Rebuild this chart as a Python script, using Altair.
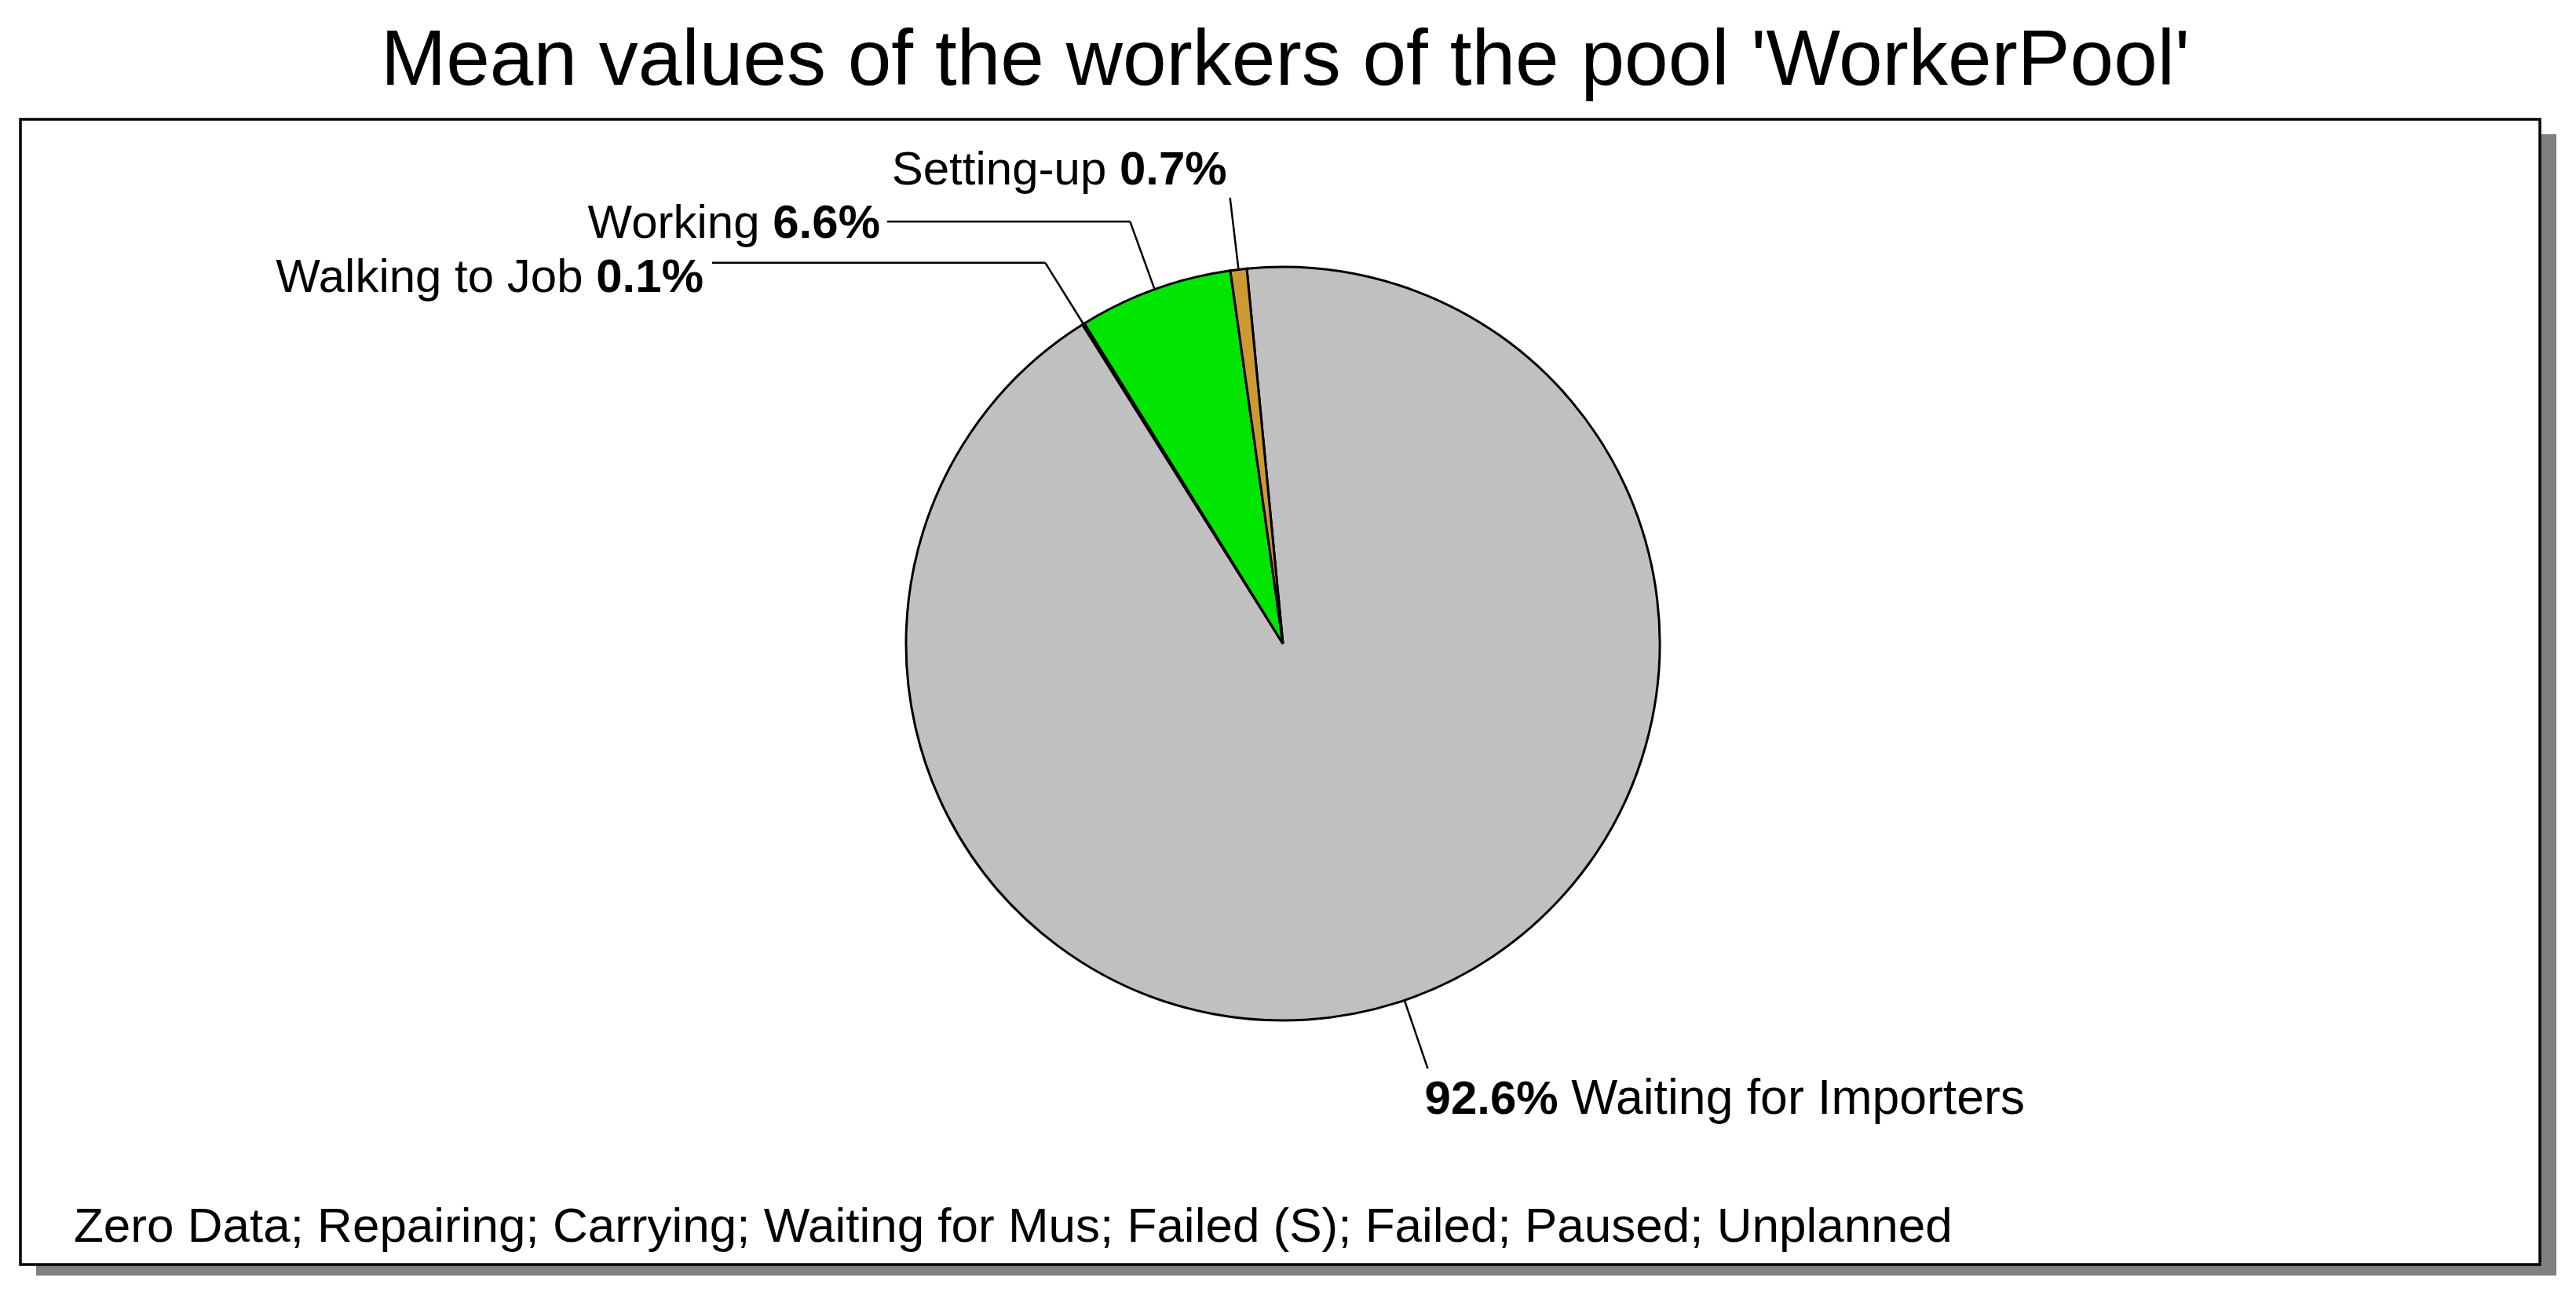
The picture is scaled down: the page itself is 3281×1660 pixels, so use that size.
import math
import altair as alt
import pandas as pd

# ---------------- data ----------------
categories = ["Waiting for Importers", "Walking to Job", "Working", "Setting-up"]
shares = [92.6, 0.1, 6.6, 0.7]
pct_labels = ["92.6%", "0.1%", "6.6%", "0.7%"]
slice_colors = ["#C0C0C0", "#C89B3C", "#00E600", "#CC9933"]
zero_categories = ["Zero Data", "Repairing", "Carrying", "Waiting for Mus",
                   "Failed (S)", "Failed", "Paused", "Unplanned"]
title_text = "Mean values of the workers of the pool 'WorkerPool'"

# ---------------- layout ----------------
W, H = 3260, 1640
OFF = 8
CX, CY, R = 1634 - OFF, 820 - OFF, 480
START_DEG = -5.5
R_OUT = 572
FS = 60
FONT = "Liberation Sans"

label_layout = {
    "Waiting for Importers": dict(elbow_x=None, side="start", dx=-4, dy=58, fs=62.5),
    "Walking to Job": dict(elbow_x=907 - OFF, side="end", dx=-11, dy=37, fs=60),
    "Working": dict(elbow_x=1130 - OFF, side="end", dx=-9, dy=21, fs=60),
    "Setting-up": dict(elbow_x=None, side="end", dx=-4, dy=-17, fs=60),
}

BOLD_W = {str(d): 0.556 for d in range(10)}
BOLD_W.update({".": 0.278, "%": 0.889})
SPACE = 0.278


def bold_width(s):
    return sum(BOLD_W.get(ch, 0.556) for ch in s) * FS


total = sum(shares)
pie_df = pd.DataFrame({
    "category": categories,
    "share": shares,
    "idx": list(range(len(categories))),
})

seg_rows = []
txt_rows = []
acc = START_DEG
for cat, s, pct in zip(categories, shares, pct_labels):
    span = s / total * 360.0
    mid = math.radians(acc + span / 2)
    acc += span
    x1 = CX + R * math.sin(mid)
    y1 = CY - R * math.cos(mid)
    x2 = CX + R_OUT * math.sin(mid)
    y2 = CY - R_OUT * math.cos(mid)
    seg_rows.append(dict(x=x1, y=y1, x2=x2, y2=y2))
    lay = label_layout[cat]
    ex, ey = x2, y2
    if lay["elbow_x"] is not None:
        seg_rows.append(dict(x=x2, y=y2, x2=lay["elbow_x"], y2=y2))
        ex = lay["elbow_x"]
    tx, ty = ex + lay["dx"], ey + lay["dy"]
    bw = bold_width(pct)
    if lay["side"] == "end":
        txt_rows.append(dict(x=tx, y=ty, text=pct, bold=1, side="end", fs=FS))
        txt_rows.append(dict(x=tx - bw - SPACE * FS, y=ty, text=cat, bold=0, side="end",
                             fs=lay["fs"]))
    else:
        txt_rows.append(dict(x=tx, y=ty, text=pct, bold=1, side="start", fs=FS))
        txt_rows.append(dict(x=tx + bw + SPACE * FS, y=ty, text=cat, bold=0, side="start",
                             fs=lay["fs"]))

seg_df = pd.DataFrame(seg_rows)
txt_df = pd.DataFrame(txt_rows)
one = pd.DataFrame({"a": [0]})

sx = alt.Scale(domain=[0, W], range=[0, W], nice=False, zero=False)
sy = alt.Scale(domain=[0, H], range=[0, H], nice=False, zero=False)

shadow = alt.Chart(one).mark_rect(color="#808080").encode(
    x=alt.value(46 - OFF), x2=alt.value(3256 - OFF),
    y=alt.value(171 - OFF), y2=alt.value(1625 - OFF))

frame = alt.Chart(one).mark_rect(fill="white", stroke="black", strokeWidth=3.5).encode(
    x=alt.value(26 - OFF), x2=alt.value(3235 - OFF),
    y=alt.value(152 - OFF), y2=alt.value(1611 - OFF))

pie = alt.Chart(pie_df).mark_arc(stroke="black", strokeWidth=3).encode(
    theta=alt.Theta("share:Q", stack=True,
                    scale=alt.Scale(range=[math.radians(START_DEG),
                                           math.radians(START_DEG) + 2 * math.pi])),
    color=alt.Color("category:N", scale=alt.Scale(domain=categories, range=slice_colors),
                    legend=None),
    order=alt.Order("idx:Q"),
    x=alt.value(CX), y=alt.value(CY), radius=alt.value(R))

leaders = alt.Chart(seg_df).mark_rule(color="black", strokeWidth=2.5).encode(
    x=alt.X("x:Q", scale=sx, axis=None), y=alt.Y("y:Q", scale=sy, axis=None),
    x2="x2:Q", y2="y2:Q")


def text_layer(side, bold):
    df = txt_df[(txt_df.side == side) & (txt_df.bold == bold)]
    return alt.Chart(df).mark_text(
        font=FONT, fontWeight="bold" if bold else "normal",
        align="right" if side == "end" else "left", baseline="alphabetic",
        color="black").encode(
        x=alt.X("x:Q", scale=sx, axis=None), y=alt.Y("y:Q", scale=sy, axis=None),
        size=alt.Size("fs:Q", scale=None, legend=None),
        text="text:N")


title = alt.Chart(one).mark_text(
    font=FONT, fontSize=100, align="center", baseline="alphabetic", color="black").encode(
    x=alt.value(1637 - OFF), y=alt.value(108 - OFF), text=alt.value(title_text))

footer = alt.Chart(one).mark_text(
    font=FONT, fontSize=62, align="left", baseline="alphabetic", color="black").encode(
    x=alt.value(94 - OFF), y=alt.value(1582 - OFF), text=alt.value("; ".join(zero_categories)))

chart = alt.layer(
    shadow, frame, pie, leaders,
    text_layer("end", 0), text_layer("end", 1),
    text_layer("start", 0), text_layer("start", 1),
    title, footer,
).properties(
    width=W, height=H, padding=0, autosize=alt.AutoSizeParams(type="none"),
    background="white",
).configure_view(stroke=None)

chart.save("out.html", embed_options={"renderer": "svg", "actions": False})
